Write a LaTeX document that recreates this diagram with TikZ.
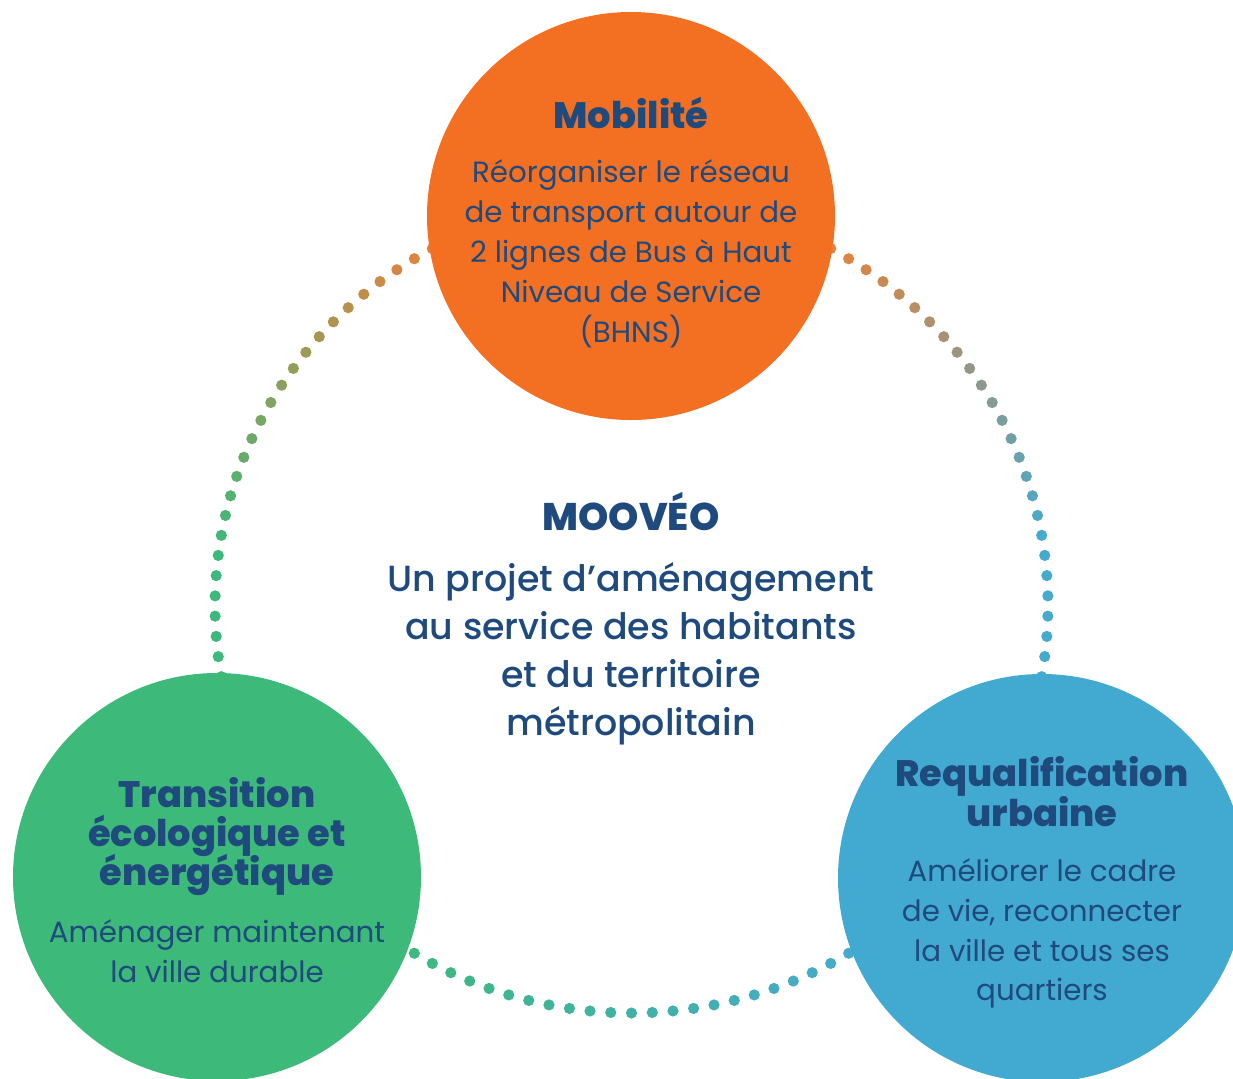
\documentclass[tikz,border=0pt]{standalone}
\usepackage{fontspec}
\setmainfont{Poppins}
\IfFontExistsTF{Poppins ExtraBold}{\newfontfamily\headfont{Poppins ExtraBold}}{\newfontfamily\headfont{Poppins}[UprightFont=*-Bold]}
\IfFontExistsTF{Poppins Medium}{\newfontfamily\midfont{Poppins Medium}}{\newfontfamily\midfont{Poppins}}
\newfontfamily\bodyfont{Poppins}
\definecolor{orangec}{HTML}{F37023}
\definecolor{greenc}{HTML}{3DB97A}
\definecolor{bluec}{HTML}{42A9D0}
\definecolor{dorange}{HTML}{E6823A}
\definecolor{dgreen}{HTML}{3DB97C}
\definecolor{dblue}{HTML}{46AACF}
\definecolor{navy}{HTML}{1F4A7D}
\tikzset{
  txtline/.style={anchor=base, inner sep=0pt, text=navy},
  head/.style={txtline, font=\headfont\fontsize{36.8bp}{40bp}\selectfont},
  body/.style={txtline, font=\bodyfont\fontsize{29.3bp}{40bp}\selectfont},
  midtxt/.style={txtline, font=\midfont\fontsize{36.4bp}{48bp}\selectfont},
  disc/.style={circle, inner sep=0pt, minimum size=408bp, draw=none},
}
\begin{document}
\begin{tikzpicture}[x=1bp, y=-1bp]
\useasboundingbox (0,0) rectangle (1233,1079);
\clip (0,0) rectangle (1233,1079);
\fill[white] (0,0) rectangle (1233,1079);
% dotted ring
\foreach \k in {0,...,125} {
  \pgfmathsetmacro\a{mod(270+\k*2.857142857,360)}
  \ifdim\a pt<10pt \def\ca{dblue}\def\cb{dblue}\def\p{100}
  \else\ifdim\a pt<62pt \def\ca{dorange}\def\cb{dblue}\pgfmathsetmacro\p{(\a-10)/52*100}
  \else\ifdim\a pt<118pt \def\ca{dorange}\def\cb{dorange}\def\p{100}
  \else\ifdim\a pt<172pt \def\ca{dorange}\def\cb{dgreen}\pgfmathsetmacro\p{(172-\a)/54*100}
  \else\ifdim\a pt<235pt \def\ca{dgreen}\def\cb{dgreen}\def\p{100}
  \else\ifdim\a pt<305pt \def\ca{dgreen}\def\cb{dblue}\pgfmathsetmacro\p{(305-\a)/70*100}
  \else \def\ca{dblue}\def\cb{dblue}\def\p{100}
  \fi\fi\fi\fi\fi\fi
  \fill[\ca!\p!\cb] ({631.5+416.5*cos(\a)},{606-407*sin(\a)}) circle (5.6);
}
% discs
\node[disc, fill=orangec] (mob) at (631,216) {};
\node[disc, fill=greenc] (eco) at (217,877) {};
\node[disc, fill=bluec] (urb) at (1042,878) {};
% Mobilite
\node[head] (mobT) at (631,128) {Mobilité};
\foreach \t [count=\i] in {Réorganiser le réseau, de transport autour de, 2 lignes de Bus à Haut, Niveau de Service, (BHNS)}
  \node[body] (mob\i) at (631,142+40*\i) {\t};
% Transition
\foreach \t [count=\i] in {Transition, écologique et, énergétique}
  \node[head] (ecoT\i) at (217,768+39*\i) {\t};
\foreach \t [count=\i] in {Aménager maintenant, la ville durable}
  \node[body] (eco\i) at (217,902+40*\i) {\t};
% Requalification
\foreach \t [count=\i] in {Requalification, urbaine}
  \node[head] (urbT\i) at (1042,746+40*\i) {\t};
\foreach \t [count=\i] in {Améliorer le cadre, {de vie, reconnecter}, la ville et tous ses, quartiers}
  \node[body] (urb\i) at (1042,842+39.7*\i) {\t};
% centre
\node[head, font=\headfont\fontsize{38.5bp}{44bp}\selectfont] (cT) at (631,530) {MOOVÉO};
\foreach \t [count=\i] in {Un projet d’aménagement, au service des habitants, et du territoire, métropolitain}
  \node[midtxt] (c\i) at (631,544+47.8*\i) {\t};
\end{tikzpicture}
\end{document}
